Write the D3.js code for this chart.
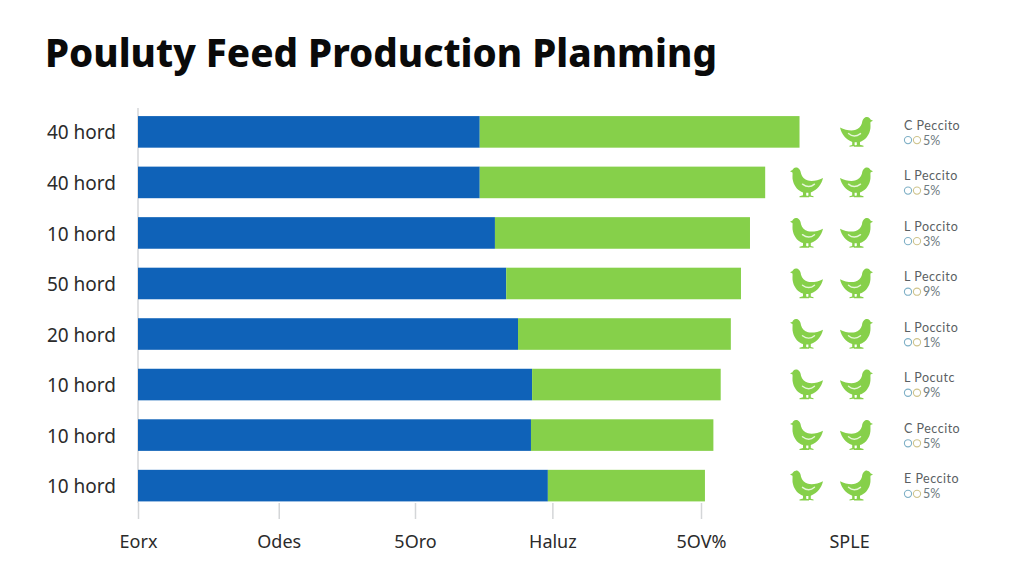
<!DOCTYPE html>
<html>
<head>
<meta charset="utf-8">
<style>
  html, body { margin: 0; padding: 0; background: #fff; }
  svg { display: block; }
  text { font-family: "Noto Sans", sans-serif; }
</style>
<script src="https://cdn.jsdelivr.net/npm/d3@7/dist/d3.min.js"></script>
</head>
<body>
<svg id="chart" width="1024" height="585"></svg>
<script>
const titleText = "Pouluty Feed Production Planming";
const herdLabels = ["40 hord", "40 hord", "10 hord", "50 hord", "20 hord", "10 hord", "10 hord", "10 hord"];
const blueValues = [60.7, 60.7, 63.4, 65.4, 67.5, 70.0, 69.8, 72.8];
const greenValues = [56.8, 50.7, 45.3, 41.7, 37.8, 33.5, 32.4, 27.9];
const henCounts = [1, 2, 2, 2, 2, 2, 2, 2];
const noteTitles = ["C Peccito", "L Peccito", "L Poccito", "L Peccito", "L Poccito", "L Pocutc", "C Peccito", "E Peccito"];
const noteValues = ["5%", "5%", "3%", "9%", "1%", "9%", "5%", "5%"];
const axisValues = [0, 25, 49.2, 73.6, 100, 126.3];
const axisLabels = ["Eorx", "Odes", "5Oro", "Haluz", "5OV%", "SPLE"];

const BLUE = "#0f62b8", GREEN = "#86d04a", GRID = "#d4d6d8", INK = "#2b2b2b";

const svg = d3.select("#chart");
const x = d3.scaleLinear().domain([0, 100]).range([138, 701]);
const y = d3.scaleBand().domain(d3.range(herdLabels.length)).range([107.5, 510]).paddingInner(0.375).paddingOuter(0.17);

svg.append("text").attr("x", 45).attr("y", 67)
  .attr("font-size", 38.5).attr("font-weight", 800).attr("fill", "#0a0a0a")
  .text(titleText);

// Baseline of the bars
svg.append("line").attr("x1", x(0)).attr("x2", x(0)).attr("y1", 108).attr("y2", 503)
  .attr("stroke", GRID).attr("stroke-width", 1.5);

// Herd labels on the left
const leftAxis = d3.axisLeft(y).tickSize(0).tickPadding(0).tickFormat(i => herdLabels[i]);
const gLeft = svg.append("g").attr("transform", "translate(116,1.5)").call(leftAxis);
gLeft.select(".domain").remove();
gLeft.selectAll("text").attr("font-size", 19).attr("fill", INK).style("font-family", "'Noto Sans', sans-serif");

// Stacked bars
const rows = svg.append("g").selectAll("g").data(herdLabels).join("g")
  .attr("transform", (d, i) => `translate(0,${y(i)})`);
rows.append("rect")
  .attr("x", x(0)).attr("height", y.bandwidth())
  .attr("width", (d, i) => x(blueValues[i]) - x(0)).attr("fill", BLUE);
rows.append("rect")
  .attr("x", (d, i) => x(blueValues[i])).attr("height", y.bandwidth())
  .attr("width", (d, i) => x(blueValues[i] + greenValues[i]) - x(blueValues[i])).attr("fill", GREEN);

// Bottom axis with ticks under the last bar
const bottomAxis = d3.axisBottom(x).tickValues(axisValues).tickSize(16).tickPadding(16)
  .tickFormat((d, i) => axisLabels[i]);
const gBottom = svg.append("g").attr("transform", "translate(0,503)").call(bottomAxis);
gBottom.select(".domain").remove();
gBottom.selectAll("line").attr("stroke", GRID).attr("stroke-width", 1.5);
gBottom.selectAll(".tick").filter((d, i) => i === axisValues.length - 1).select("line").remove();
gBottom.selectAll("text").attr("font-size", 18).attr("fill", INK).style("font-family", "'Noto Sans', sans-serif");

// Hen icon, facing right, about 33 wide and 31 tall
const henBody = "M0 11.5 C5 14 11 15 15 14 C18.5 13 21 10.5 22 7 C22.5 3 24.5 0.6 27 0.8 C29 1 30.2 2.4 30.5 3.4 L33 4.6 L30.5 5.8 C30.2 8 31 11 30 14.5 C28.5 20.5 24.5 24.5 20 25.8 L20 28.6 L23.5 29.6 L23.5 30.6 L14 30.6 L14 29.6 L16.8 28.8 L16.8 26.2 L14.6 26.2 L14.6 28.8 L16 29.6 L9.5 30.6 L9.5 29.6 L12.2 28.8 L12.2 25.8 C5.5 23.5 1.6 18 0 11.5 Z";
const henWing = "M8.5 17.5 C12 20.5 16.5 20.5 20.5 17.5";
const henSlots = [807, 856];

const hens = rows.append("g").selectAll("g")
  .data((d, i) => henSlots.slice(2 - henCounts[i]))
  .join("g")
  .attr("transform", d => {
    // The left-hand hen looks the other way
    const flip = d === henSlots[0];
    return flip ? `translate(${d + 16},0) scale(-1,1)` : `translate(${d - 16},0)`;
  });
hens.append("path").attr("d", henBody).attr("fill", GREEN);
hens.append("path").attr("d", henWing).attr("fill", "none").attr("stroke", "#e6f6d8").attr("stroke-width", 1.4).attr("stroke-linecap", "round");

// Side notes
rows.append("text").attr("x", 904).attr("y", 13.5).attr("font-size", 12.5).attr("fill", "#5a5f63")
  .style("font-family", "Lato, sans-serif").style("letter-spacing", "0.5px")
  .text((d, i) => noteTitles[i]);
rows.append("circle").attr("cx", 908).attr("cy", 24).attr("r", 3.6).attr("fill", "none").attr("stroke", "#7fb0c6").attr("stroke-width", 1.1);
rows.append("circle").attr("cx", 917).attr("cy", 24).attr("r", 3.6).attr("fill", "none").attr("stroke", "#cfc48c").attr("stroke-width", 1.1);
rows.append("text").attr("x", 923).attr("y", 28.5).attr("font-size", 12.5).attr("fill", "#6d7a80")
  .style("font-family", "Lato, sans-serif")
  .text((d, i) => noteValues[i]);
</script>
</body>
</html>
